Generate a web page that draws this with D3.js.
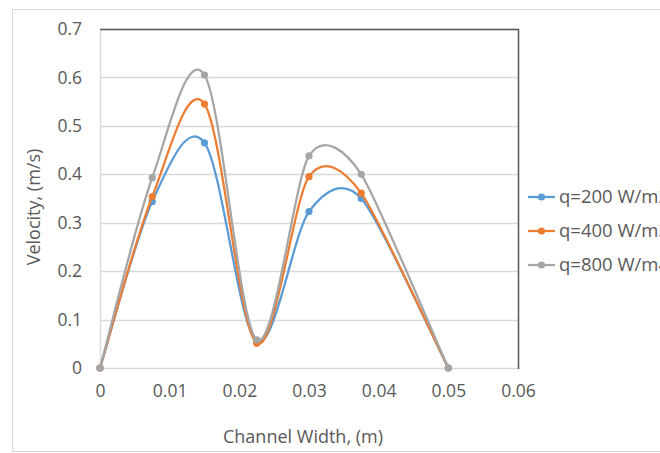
<!DOCTYPE html>
<html>
<head>
<meta charset="utf-8">
<script src="https://cdn.jsdelivr.net/npm/d3@7"></script>
<style>
  html, body { margin: 0; padding: 0; background: #fff; }
  svg { display: block; font-family: "Open Sans", "Noto Sans", sans-serif; }
</style>
</head>
<body>
<svg id="chart" width="660" height="453"></svg>
<script>
// Channel positions (m) and velocity profiles (m/s) for each heat flux
const widths = [0, 0.0075, 0.015, 0.0225, 0.03, 0.0375, 0.05];
const q200 = [0, 0.344, 0.465, 0.055, 0.323, 0.350, 0];
const q400 = [0, 0.354, 0.545, 0.051, 0.395, 0.361, 0];
const q800 = [0, 0.393, 0.605, 0.058, 0.438, 0.400, 0];
const seriesNames = ["q=200 W/m2", "q=400 W/m3", "q=800 W/m4"];
const seriesColors = ["#5B9BD5", "#ED7D31", "#A5A5A5"];
const xTicks = [0, 0.01, 0.02, 0.03, 0.04, 0.05, 0.06];
const yTicks = [0, 0.1, 0.2, 0.3, 0.4, 0.5, 0.6, 0.7];

const series = [q200, q400, q800].map((vals, i) => ({
  name: seriesNames[i],
  color: seriesColors[i],
  points: widths.map((w, j) => ({ x: w, y: vals[j] }))
}));

const svg = d3.select("#chart");
const plot = { left: 100, right: 518, top: 29, bottom: 368 };

const x = d3.scaleLinear().domain([0, 0.06]).range([plot.left, plot.right]);
const y = d3.scaleLinear().domain([0, 0.7]).range([plot.bottom, plot.top]);

// Spreadsheet-style smoothed line: cubic Bezier segments whose control arms
// are (next - prev) / 6, shortened to at most half of the neighbouring chord.
function smoothPath(pts) {
  const p = pts.map(d => [x(d.x), y(d.y)]);
  const n = p.length;
  const dist = (a, b) => Math.hypot(b[0] - a[0], b[1] - a[1]);
  const arms = p.map((pt, i) => {
    const prev = p[Math.max(0, i - 1)];
    const next = p[Math.min(n - 1, i + 1)];
    let ax = (next[0] - prev[0]) / 6;
    let ay = (next[1] - prev[1]) / 6;
    const len = Math.hypot(ax, ay);
    const chords = [];
    if (i > 0) chords.push(dist(p[i - 1], pt));
    if (i < n - 1) chords.push(dist(pt, p[i + 1]));
    const limit = Math.min(...chords) / 2;
    if (len > limit && len > 0) {
      ax *= limit / len;
      ay *= limit / len;
    }
    return [ax, ay];
  });
  const path = d3.path();
  path.moveTo(p[0][0], p[0][1]);
  for (let i = 0; i < n - 1; i++) {
    path.bezierCurveTo(
      p[i][0] + arms[i][0], p[i][1] + arms[i][1],
      p[i + 1][0] - arms[i + 1][0], p[i + 1][1] - arms[i + 1][1],
      p[i + 1][0], p[i + 1][1]
    );
  }
  return path.toString();
}

// outer chart frame
svg.append("rect")
  .attr("x", 12.5).attr("y", 9.5)
  .attr("width", 700).attr("height", 442)
  .attr("fill", "none").attr("stroke", "#d9d9d9").attr("stroke-width", 1);

// horizontal gridlines
svg.append("g").selectAll("line")
  .data(yTicks)
  .join("line")
  .attr("x1", plot.left).attr("x2", plot.right)
  .attr("y1", d => Math.round(y(d)) + 0.5).attr("y2", d => Math.round(y(d)) + 0.5)
  .attr("stroke", "#d9d9d9").attr("stroke-width", 1.3);

// plot area border: light left edge, dark top and right edges
svg.append("line")
  .attr("x1", plot.left + 0.5).attr("x2", plot.left + 0.5)
  .attr("y1", plot.top).attr("y2", plot.bottom)
  .attr("stroke", "#d9d9d9").attr("stroke-width", 1.3);
svg.append("path")
  .attr("d", `M${plot.left},${plot.top + 0.5}H${plot.right + 0.5}V${plot.bottom + 1}`)
  .attr("fill", "none").attr("stroke", "#555").attr("stroke-width", 1.5);

// y axis tick labels
const yAxis = d3.axisLeft(y).tickValues(yTicks).tickSize(0).tickPadding(18)
  .tickFormat(d => d === 0 ? "0" : d3.format(".1f")(d));
svg.append("g")
  .attr("transform", `translate(${plot.left},0)`)
  .call(yAxis)
  .call(g => g.select(".domain").remove())
  .call(g => g.selectAll("text")
    .attr("fill", "#595959").attr("font-size", 17.5)
    .attr("font-family", "\"Open Sans\", sans-serif"));

// x axis tick labels
const xAxis = d3.axisBottom(x).tickValues(xTicks).tickSize(0).tickPadding(17)
  .tickFormat(d => d === 0 ? "0" : d3.format(".2f")(d));
svg.append("g")
  .attr("transform", `translate(0,${plot.bottom})`)
  .call(xAxis)
  .call(g => g.select(".domain").remove())
  .call(g => g.selectAll("text")
    .attr("fill", "#595959").attr("font-size", 17.5)
    .attr("font-family", "\"Open Sans\", sans-serif"));

// axis titles
svg.append("text")
  .attr("x", 303).attr("y", 443)
  .attr("text-anchor", "middle")
  .attr("fill", "#595959").attr("font-size", 18)
  .text("Channel Width, (m)");
svg.append("text")
  .attr("transform", "translate(40,207) rotate(-90)")
  .attr("text-anchor", "middle")
  .attr("fill", "#595959").attr("font-size", 18)
  .text("Velocity, (m/s)");

// smoothed series lines and markers
const groups = svg.append("g").selectAll("g")
  .data(series)
  .join("g");

groups.append("path")
  .attr("d", d => smoothPath(d.points))
  .attr("fill", "none")
  .attr("stroke", d => d.color)
  .attr("stroke-width", 2.25)
  .attr("stroke-linejoin", "round");

groups.selectAll("circle")
  .data(d => d.points.map(p => ({ ...p, color: d.color })))
  .join("circle")
  .attr("cx", d => x(d.x)).attr("cy", d => y(d.y))
  .attr("r", 3.6)
  .attr("fill", d => d.color);

// legend
const legend = svg.append("g").selectAll("g")
  .data(series)
  .join("g")
  .attr("transform", (d, i) => `translate(528,${197 + i * 34})`);
legend.append("line")
  .attr("x1", 0).attr("x2", 27)
  .attr("stroke", d => d.color).attr("stroke-width", 2.25);
legend.append("circle")
  .attr("cx", 13.5).attr("r", 3.6)
  .attr("fill", d => d.color);
legend.append("text")
  .attr("x", 31).attr("dy", "0.35em")
  .attr("fill", "#595959").attr("font-size", 18.5)
  .text(d => d.name);
</script>
</body>
</html>
